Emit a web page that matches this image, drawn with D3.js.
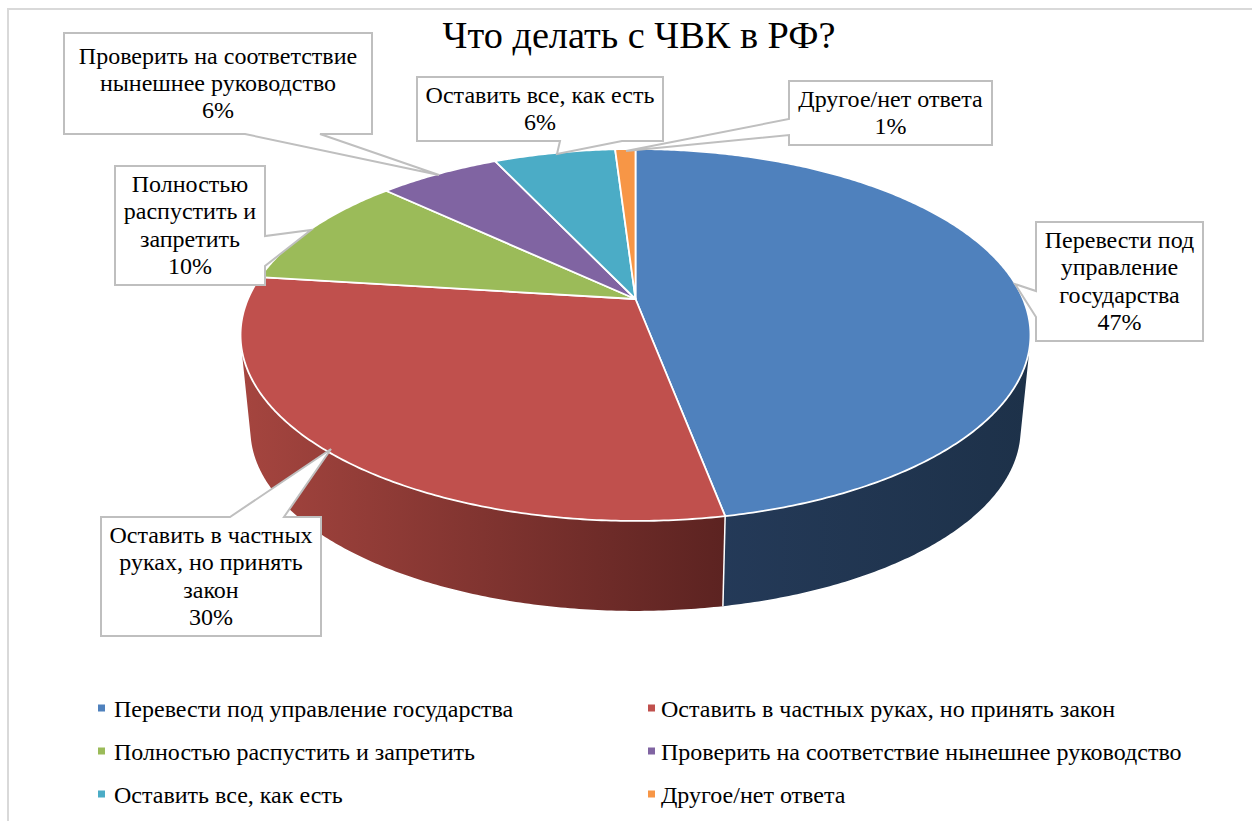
<!DOCTYPE html>
<html><head><meta charset="utf-8">
<script src="https://cdnjs.cloudflare.com/ajax/libs/d3/7.8.5/d3.min.js"></script>
<style>html,body{margin:0;padding:0;background:#fff;overflow:hidden}svg{display:block}text{font-family:"Liberation Serif",serif;fill:#000}</style>
</head><body><svg id="c" width="1252" height="821"></svg>
<script>
const categories=["Перевести под управление государства","Оставить в частных руках, но принять закон","Полностью распустить и запретить","Проверить на соответствие нынешнее руководство","Оставить все, как есть","Другое/нет ответа"];
const values=[47,30,10,6,6,1];
const colors=["#4f81bd","#c0504d","#9bbb59","#8064a2","#4bacc6","#f79646"];
const sideStops=[["#263c5c","#1d3149"],["#a5453f","#5c2321"],["#5f7136","#5f7136"],["#4d3c62","#4d3c62"],["#2d6778","#2d6778"],["#94592a","#94592a"]];
const labelLines=[["Перевести под","управление","государства","47%"],["Оставить в частных","руках, но принять","закон","30%"],["Полностью","распустить и","запретить","10%"],["Проверить на соответствие","нынешнее руководство","6%"],["Оставить все, как есть","6%"],["Другое/нет ответа","1%"]];
const title="Что делать с ЧВК в РФ?";

// callout layout: box [x0,y0,x1,y1], pointer [base1,tip,base2]
const callouts=[
 {box:[1036,222,1203,341],ptr:[[1036,291],[1015,284],[1036,317]]},
 {box:[101,517,321,636],ptr:[[230,517],[331,449],[284,517]]},
 {box:[115,166,265,285],ptr:[[265,236],[311,230],[265,266]]},
 {box:[64,33,372,134],ptr:[[245,134],[439,175],[320,134]]},
 {box:[417,77,663,141],ptr:[[560,141],[557,154],[622,141]]},
 {box:[789,81,992,145],ptr:[[789,119],[626,151],[789,135]]}
];
const svg=d3.select("#c");
const cx=635.5,cy=299,R=387.5,A=179,K=0.1935,DEPTH=95.5,S=0.975;

function project(a,lower){
  const u=Math.sin(a),v=Math.cos(a),w=1+K*v;
  const s=lower?S:1,d=lower?DEPTH:0;
  return [cx+s*R*u/w, cy+d-s*A*v/w];
}
function rim(a0,a1,lower){
  const n=Math.max(2,Math.ceil((a1-a0)/0.01));
  return d3.range(n+1).map(i=>project(a0+(a1-a0)*i/n,lower));
}
const arcs=d3.pie().sort(null).value(d=>d)(values);
const line=d3.line();
const defs=svg.append("defs");

svg.append("rect").attr("x",8).attr("y",9).attr("width",1300).attr("height",900)
  .attr("fill","#fff").attr("stroke","#d9d9d9").attr("stroke-width",2);

// side walls: union of small quads between the upper and lower rim
arcs.forEach((d,i)=>{
  const up=rim(d.startAngle,d.endAngle,false),lo=rim(d.startAngle,d.endAngle,true);
  const xs=up.concat(lo).map(p=>p[0]);
  const g=defs.append("linearGradient").attr("id","side"+i).attr("gradientUnits","userSpaceOnUse")
    .attr("x1",d3.min(xs)).attr("x2",d3.max(xs)).attr("y1",0).attr("y2",0);
  g.append("stop").attr("offset",0).attr("stop-color",sideStops[i][0]);
  g.append("stop").attr("offset",1).attr("stop-color",sideStops[i][1]);
  const dPath=d3.range(up.length-1).map(k=>line(d3.polygonHull([up[k],up[k+1],lo[k],lo[k+1]]))+"Z").join("");
  svg.append("path").attr("d",dPath).attr("fill","url(#side"+i+")");
});
// seam between blue and red walls
const seamA=arcs[0].endAngle;
svg.append("path").attr("d",line([project(seamA,false),project(seamA,true)]))
  .attr("stroke","#fff").attr("stroke-width",1.5).attr("fill","none");
// top faces
arcs.forEach((d,i)=>{
  const pts=[[cx,cy]].concat(rim(d.startAngle,d.endAngle,false));
  svg.append("path").attr("d",line(pts)+"Z").attr("fill",colors[i])
    .attr("stroke","#fff").attr("stroke-width",1.8).attr("stroke-linejoin","round");
});

svg.append("text").attr("x",639).attr("y",48).attr("text-anchor","middle").attr("font-size",38.3).text(title);

// callouts
callouts.forEach((c,i)=>{
  const [x0,y0,x1,y1]=c.box,[p1,t,p2]=c.ptr;
  let pts;
  if(p1[1]===y1&&p2[1]===y1) pts=[[x0,y0],[x1,y0],[x1,y1],p2,t,p1,[x0,y1]];
  else if(p1[1]===y0&&p2[1]===y0) pts=[[x0,y0],p1,t,p2,[x1,y0],[x1,y1],[x0,y1]];
  else if(p1[0]===x0) pts=[[x0,y0],[x1,y0],[x1,y1],[x0,y1],p2,t,p1];
  else pts=[[x0,y0],[x1,y0],p1,t,p2,[x1,y1],[x0,y1]];
  svg.append("path").attr("d",line(pts)+"Z").attr("fill","#fff").attr("stroke","#bfbfbf").attr("stroke-width",2).attr("stroke-linejoin","miter");
  const lines=labelLines[i],lh=27.1,mx=(x0+x1)/2;
  const total=lines.length*lh,top=(y0+y1)/2-total/2;
  lines.forEach((s,j)=>svg.append("text").attr("x",mx).attr("y",top+lh*j+21).attr("text-anchor","middle").attr("font-size",24).text(s));
});

// legend
const legendX=[98,648],legendTextX=[114,661],legendY=d3.scaleBand().domain([0,1,2]).range([688,817]);
categories.forEach((name,i)=>{
  const col=i%2,row=Math.floor(i/2),y=legendY(row)+legendY.bandwidth()/2;
  svg.append("rect").attr("x",legendX[col]).attr("y",y-5).attr("width",7).attr("height",7).attr("fill",colors[i]);
  svg.append("text").attr("x",legendTextX[col]).attr("y",y+7.5).attr("font-size",24).text(name);
});
</script></body></html>
